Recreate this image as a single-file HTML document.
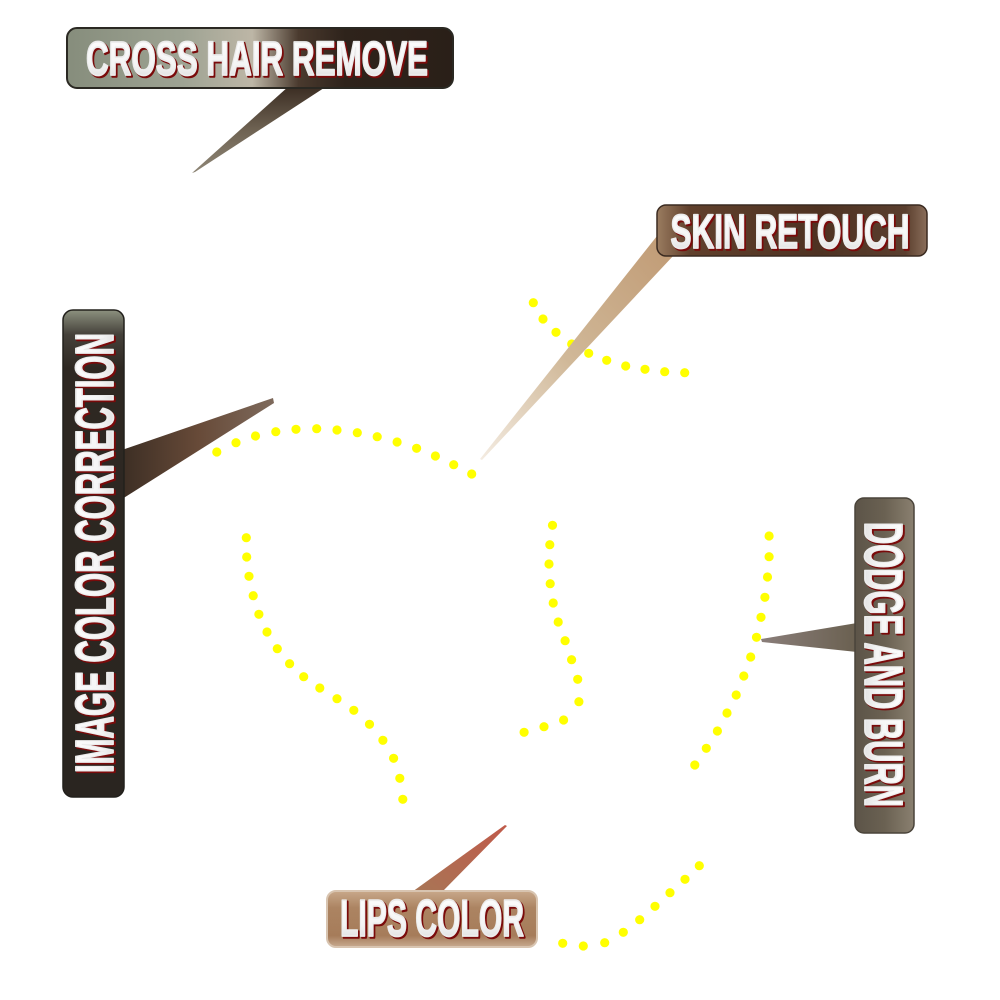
<!DOCTYPE html>
<html>
<head>
<meta charset="utf-8">
<style>
  html,body{margin:0;padding:0;background:#ffffff;}
  body{width:1000px;height:1000px;overflow:hidden;}
  svg{display:block;}
  .t{font-family:"Liberation Sans",Arial,sans-serif;font-weight:bold;stroke-linejoin:round;}
  .sh{fill:#7a0a0a;stroke:#7a0a0a;stroke-width:2.6;}
  .mn{fill:url(#gTxt);stroke:#ececec;stroke-width:1.8;}
</style>
</head>
<body>
<svg width="1000" height="1000" viewBox="0 0 1000 1000" xmlns="http://www.w3.org/2000/svg">
  <defs>
    <linearGradient id="gCross" x1="0" y1="0" x2="1" y2="0">
      <stop offset="0" stop-color="#868d7c"/>
      <stop offset="0.3" stop-color="#9ea393"/>
      <stop offset="0.48" stop-color="#bdb6a6"/>
      <stop offset="0.6" stop-color="#4a3a2e"/>
      <stop offset="0.72" stop-color="#2e231b"/>
      <stop offset="1" stop-color="#2a1f18"/>
    </linearGradient>
    <linearGradient id="gCrossTail" x1="0" y1="0" x2="0" y2="1">
      <stop offset="0" stop-color="#3a2c22"/>
      <stop offset="0.5" stop-color="#6e6252"/>
      <stop offset="1" stop-color="#8e8676"/>
    </linearGradient>
    <linearGradient id="gSkin" x1="0" y1="0" x2="1" y2="0">
      <stop offset="0" stop-color="#9a7c60"/>
      <stop offset="0.12" stop-color="#60402c"/>
      <stop offset="0.6" stop-color="#4e3222"/>
      <stop offset="0.92" stop-color="#5a3e2e"/>
      <stop offset="1" stop-color="#8a6e5a"/>
    </linearGradient>
    <linearGradient id="gSkinTail" x1="1" y1="0" x2="0" y2="1">
      <stop offset="0" stop-color="#c09a74"/>
      <stop offset="0.55" stop-color="#d0b898"/>
      <stop offset="1" stop-color="#f4ece2"/>
    </linearGradient>
    <linearGradient id="gImg" x1="0" y1="0" x2="0" y2="1">
      <stop offset="0" stop-color="#8c917f"/>
      <stop offset="0.05" stop-color="#45413a"/>
      <stop offset="0.12" stop-color="#2e2822"/>
      <stop offset="1" stop-color="#2a2520"/>
    </linearGradient>
    <linearGradient id="gImgTail" x1="0" y1="0" x2="1" y2="0">
      <stop offset="0" stop-color="#3c2e24"/>
      <stop offset="0.5" stop-color="#674a38"/>
      <stop offset="1" stop-color="#7e6a5c"/>
    </linearGradient>
    <linearGradient id="gDodge" x1="0" y1="0" x2="1" y2="0">
      <stop offset="0" stop-color="#5c5448"/>
      <stop offset="0.5" stop-color="#6a6152"/>
      <stop offset="1" stop-color="#8a8070"/>
    </linearGradient>
    <linearGradient id="gDodgeTail" x1="0" y1="0" x2="1" y2="0">
      <stop offset="0" stop-color="#8a7e7a"/>
      <stop offset="1" stop-color="#6a6050"/>
    </linearGradient>
    <linearGradient id="gLips" x1="0" y1="0" x2="0" y2="1">
      <stop offset="0" stop-color="#c8a88a"/>
      <stop offset="0.3" stop-color="#ac8462"/>
      <stop offset="0.8" stop-color="#a67c5a"/>
      <stop offset="1" stop-color="#c8aa90"/>
    </linearGradient>
    <linearGradient id="gLipsTail" x1="0" y1="1" x2="1" y2="0">
      <stop offset="0" stop-color="#a87656"/>
      <stop offset="1" stop-color="#c05a4a"/>
    </linearGradient>
    <linearGradient id="gTxt" x1="0" y1="0" x2="0" y2="1">
      <stop offset="0" stop-color="#ffffff"/>
      <stop offset="0.6" stop-color="#f4f4f4"/>
      <stop offset="1" stop-color="#d4d4d4"/>
    </linearGradient>
  </defs>

  <!-- Yellow dotted guides -->
  <g fill="#ffff00">
    <circle cx="216.8" cy="452" r="4.6"/><circle cx="236" cy="442.7" r="4.6"/>
    <circle cx="255.5" cy="436" r="4.6"/><circle cx="275.8" cy="431.7" r="4.6"/>
    <circle cx="296" cy="429.3" r="4.6"/><circle cx="316.7" cy="428.7" r="4.6"/>
    <circle cx="337" cy="430" r="4.6"/><circle cx="357.3" cy="432.7" r="4.6"/>
    <circle cx="377.2" cy="436.7" r="4.6"/><circle cx="397.1" cy="442" r="4.6"/>
    <circle cx="416.6" cy="448.3" r="4.6"/><circle cx="435.4" cy="456" r="4.6"/>
    <circle cx="453.7" cy="464.7" r="4.6"/><circle cx="471.7" cy="474" r="4.6"/>
    <circle cx="533.3" cy="302.7" r="4.6"/><circle cx="543" cy="319" r="4.6"/>
    <circle cx="556" cy="332.3" r="4.6"/><circle cx="571.7" cy="344" r="4.6"/>
    <circle cx="588.7" cy="353.3" r="4.6"/><circle cx="606.7" cy="360.3" r="4.6"/>
    <circle cx="625.7" cy="366" r="4.6"/><circle cx="645" cy="369.3" r="4.6"/>
    <circle cx="664.7" cy="371.7" r="4.6"/><circle cx="684.7" cy="372.7" r="4.6"/>
    <circle cx="246.3" cy="537.7" r="4.6"/><circle cx="246.7" cy="557" r="4.6"/>
    <circle cx="249" cy="576.3" r="4.6"/><circle cx="253.2" cy="595.7" r="4.6"/>
    <circle cx="258.9" cy="614.3" r="4.6"/><circle cx="267" cy="632" r="4.6"/>
    <circle cx="277.3" cy="648.7" r="4.6"/><circle cx="289.6" cy="663.7" r="4.6"/>
    <circle cx="303.7" cy="676.7" r="4.6"/><circle cx="319.8" cy="688" r="4.6"/>
    <circle cx="337" cy="698.7" r="4.6"/><circle cx="353.8" cy="710.3" r="4.6"/>
    <circle cx="369.5" cy="724.3" r="4.6"/><circle cx="382.9" cy="740.3" r="4.6"/>
    <circle cx="393.6" cy="758.3" r="4.6"/><circle cx="399.8" cy="778.3" r="4.6"/>
    <circle cx="402.8" cy="799.3" r="4.6"/>
    <circle cx="552.5" cy="525.3" r="4.6"/><circle cx="549.8" cy="544.7" r="4.6"/>
    <circle cx="549" cy="564" r="4.6"/><circle cx="550.2" cy="583.7" r="4.6"/>
    <circle cx="553.2" cy="603" r="4.6"/><circle cx="558.2" cy="622" r="4.6"/>
    <circle cx="565.1" cy="640.7" r="4.6"/><circle cx="571.6" cy="659.7" r="4.6"/>
    <circle cx="577.7" cy="679.3" r="4.6"/><circle cx="578.9" cy="701.7" r="4.6"/>
    <circle cx="563.6" cy="720" r="4.6"/><circle cx="544" cy="726.7" r="4.6"/>
    <circle cx="524.1" cy="732.3" r="4.6"/>
    <circle cx="769.1" cy="536" r="4.6"/><circle cx="769.1" cy="556.7" r="4.6"/>
    <circle cx="767.5" cy="577" r="4.6"/><circle cx="764.9" cy="597.3" r="4.6"/>
    <circle cx="761" cy="617.3" r="4.6"/><circle cx="756.5" cy="637.3" r="4.6"/>
    <circle cx="750.7" cy="657" r="4.6"/><circle cx="743.8" cy="676" r="4.6"/>
    <circle cx="736.2" cy="695" r="4.6"/><circle cx="727" cy="713" r="4.6"/>
    <circle cx="717.4" cy="731" r="4.6"/><circle cx="706.3" cy="748.3" r="4.6"/>
    <circle cx="694.8" cy="765" r="4.6"/>
    <circle cx="562.7" cy="943.3" r="4.6"/><circle cx="583.3" cy="946" r="4.6"/>
    <circle cx="604.7" cy="942.7" r="4.6"/><circle cx="623.3" cy="932.3" r="4.6"/>
    <circle cx="639.7" cy="919.7" r="4.6"/><circle cx="655" cy="906.3" r="4.6"/>
    <circle cx="670" cy="892.7" r="4.6"/><circle cx="685" cy="879.3" r="4.6"/>
    <circle cx="699.3" cy="865.7" r="4.6"/>
  </g>

  <!-- CROSS HAIR REMOVE -->
  <polygon points="289,86 327,86 195,172 192,173" fill="url(#gCrossTail)"/>
  <rect x="67" y="28" width="386" height="60" rx="10" ry="10" fill="url(#gCross)" stroke="#2a2822" stroke-width="2"/>
  <text class="t sh" x="87.5" y="76.5" font-size="48" textLength="342" lengthAdjust="spacingAndGlyphs">CROSS HAIR REMOVE</text>
  <text class="t mn" x="86" y="75" font-size="48" textLength="342" lengthAdjust="spacingAndGlyphs">CROSS HAIR REMOVE</text>

  <!-- SKIN RETOUCH -->
  <polygon points="657,236 674,255 482,460 480,459" fill="url(#gSkinTail)"/>
  <rect x="657" y="205" width="270" height="51" rx="9" ry="9" fill="url(#gSkin)" stroke="#3a2a20" stroke-width="1.5"/>
  <text class="t sh" x="672" y="249.5" font-size="48" textLength="239" lengthAdjust="spacingAndGlyphs">SKIN RETOUCH</text>
  <text class="t mn" x="670.5" y="248" font-size="48" textLength="239" lengthAdjust="spacingAndGlyphs">SKIN RETOUCH</text>

  <!-- IMAGE COLOR CORRECTION -->
  <polygon points="122,450 273,398 274,403 122,499" fill="url(#gImgTail)"/>
  <rect x="63" y="310" width="61" height="487" rx="10" ry="10" fill="url(#gImg)" stroke="#22201c" stroke-width="1.5"/>
  <g transform="translate(114.5,774.5) rotate(-90)">
    <text class="t sh" x="0" y="0" font-size="54" textLength="440" lengthAdjust="spacingAndGlyphs">IMAGE COLOR CORRECTION</text>
  </g>
  <g transform="translate(113,773) rotate(-90)">
    <text class="t mn" x="0" y="0" font-size="54" textLength="440" lengthAdjust="spacingAndGlyphs">IMAGE COLOR CORRECTION</text>
  </g>

  <!-- DODGE AND BURN -->
  <polygon points="857,623 857,652 762,642 761,639" fill="url(#gDodgeTail)"/>
  <rect x="855" y="498" width="59" height="335" rx="9" ry="9" fill="url(#gDodge)" stroke="#4a443a" stroke-width="1.5"/>
  <g transform="translate(866.5,523.5) rotate(90)">
    <text class="t sh" x="0" y="0" font-size="54" textLength="285" lengthAdjust="spacingAndGlyphs">DODGE AND BURN</text>
  </g>
  <g transform="translate(865,522) rotate(90)">
    <text class="t mn" x="0" y="0" font-size="54" textLength="285" lengthAdjust="spacingAndGlyphs">DODGE AND BURN</text>
  </g>

  <!-- LIPS COLOR -->
  <polygon points="412,892 442,892 507,826 505,825" fill="url(#gLipsTail)"/>
  <rect x="327" y="891" width="210" height="56" rx="9" ry="9" fill="url(#gLips)" stroke="#d8c4b0" stroke-width="2"/>
  <text class="t sh" x="341.5" y="937.5" font-size="52" textLength="184" lengthAdjust="spacingAndGlyphs">LIPS COLOR</text>
  <text class="t mn" x="340" y="936" font-size="52" textLength="184" lengthAdjust="spacingAndGlyphs">LIPS COLOR</text>
</svg>
</body>
</html>
